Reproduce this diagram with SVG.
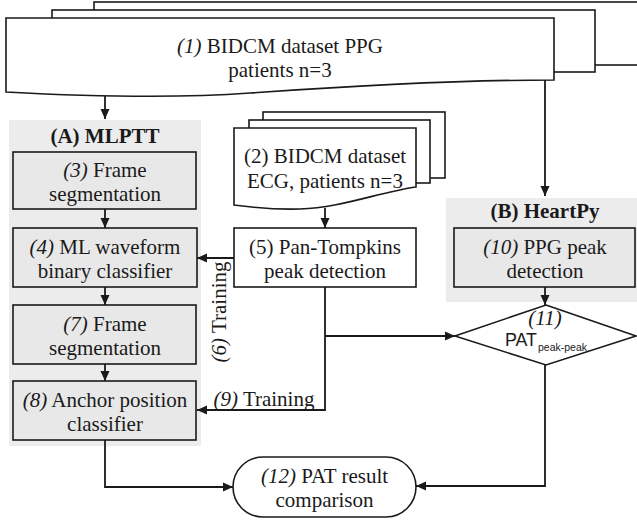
<svg xmlns="http://www.w3.org/2000/svg" width="637" height="523" viewBox="0 0 637 523">
  <style>
    .shape { fill: #ffffff; stroke: #1a1a1a; stroke-width: 1.6; }
    .proc { fill: #e8e8e8; stroke: #1a1a1a; stroke-width: 1.6; }
    .group { fill: #ececec; stroke: none; }
    .t { font-family: "Liberation Serif", "Times New Roman", serif; font-size: 21px; fill: #1a1a1a; text-anchor: middle; }
    .b { font-weight: bold; }
    .i { font-style: italic; }
    .sans { font-family: "Liberation Sans Narrow", "Liberation Sans", Arial, sans-serif; fill: #1a1a1a; }
    .edge { fill: none; stroke: #1a1a1a; stroke-width: 1.8; }
  </style>
  <defs>
    <marker id="arrow" viewBox="0 0 10 10" refX="10" refY="5" markerWidth="10" markerHeight="10" markerUnits="userSpaceOnUse" orient="auto">
      <path d="M0,0.5 L10,5 L0,9.5 Z" fill="#1a1a1a"/>
    </marker>
  </defs>

  <rect width="637" height="523" fill="#ffffff"/>

  <!-- group backgrounds -->
  <g id="group-mlptt">
    <rect class="group" x="9" y="120" width="192" height="326"/>
    <text class="t b" x="105" y="143">(A) MLPTT</text>
  </g>
  <g id="group-heartpy">
    <rect class="group" x="446" y="198" width="191" height="104"/>
    <text class="t b" x="545" y="218">(B) HeartPy</text>
  </g>

  <!-- (1) PPG dataset, stacked documents -->
  <g id="node-ppg-dataset">
    <rect class="shape" x="94" y="2" width="620" height="63"/>
    <rect class="shape" x="52" y="10" width="543" height="62"/>
    <path class="shape" d="M6,18 H554 V80 C470,80 350,86 250,93 C170,99 80,96 6,92 Z"/>
    <text class="t" x="280" y="53"><tspan class="i">(1)</tspan> BIDCM dataset PPG</text>
    <text class="t" x="280" y="77">patients n=3</text>
  </g>

  <!-- (2) ECG dataset, stacked documents -->
  <g id="node-ecg-dataset">
    <rect class="shape" x="263" y="112" width="182" height="66"/>
    <rect class="shape" x="249" y="120" width="181" height="63"/>
    <path class="shape" d="M234,128 H416 V187 C380,192 340,208 300,209 C270,210 250,207 234,205 Z"/>
    <text class="t" x="325" y="163">(2) BIDCM dataset</text>
    <text class="t" x="325" y="188">ECG, patients n=3</text>
  </g>

  <g id="node-3">
    <rect class="proc" x="13" y="152" width="183" height="57"/>
    <text class="t" x="105" y="177"><tspan class="i">(3)</tspan> Frame</text>
    <text class="t" x="105" y="201">segmentation</text>
  </g>

  <g id="node-4">
    <rect class="proc" x="13" y="228" width="184" height="59"/>
    <text class="t" x="105" y="253.5"><tspan class="i">(4)</tspan> ML waveform</text>
    <text class="t" x="105" y="277.5">binary classifier</text>
  </g>

  <g id="node-5">
    <rect class="shape" x="234" y="228" width="182" height="59"/>
    <text class="t" x="325" y="253.5">(5) Pan-Tompkins</text>
    <text class="t" x="325" y="277.5">peak detection</text>
  </g>

  <g id="node-7">
    <rect class="proc" x="13" y="305" width="183" height="59"/>
    <text class="t" x="105" y="330.5"><tspan class="i">(7)</tspan> Frame</text>
    <text class="t" x="105" y="354.5">segmentation</text>
  </g>

  <g id="node-8">
    <rect class="proc" x="13" y="381" width="183" height="59"/>
    <text class="t" x="105" y="406.5"><tspan class="i">(8)</tspan> Anchor position</text>
    <text class="t" x="105" y="430.5">classifier</text>
  </g>

  <g id="node-10">
    <rect class="proc" x="454" y="228" width="181" height="59"/>
    <text class="t" x="545" y="253.5"><tspan class="i">(10)</tspan> PPG peak</text>
    <text class="t" x="545" y="277.5">detection</text>
  </g>

  <g id="node-11">
    <path class="shape" d="M546,305 L636,336 L546,365 L455,336 Z"/>
    <text class="t i" x="545" y="325" font-size="20">(11)</text>
    <text class="sans" x="505" y="346" font-size="19" textLength="32" lengthAdjust="spacingAndGlyphs">PAT</text>
    <text class="sans" x="538" y="351" font-size="11" textLength="49" lengthAdjust="spacingAndGlyphs">peak-peak</text>
  </g>

  <g id="node-12">
    <rect class="shape" x="233" y="457" width="183" height="60" rx="30" ry="30"/>
    <text class="t" x="324.5" y="483"><tspan class="i">(12)</tspan> PAT result</text>
    <text class="t" x="324.5" y="507">comparison</text>
  </g>

  <!-- connectors -->
  <g id="connectors">
    <path class="edge" d="M105,96 V119" marker-end="url(#arrow)"/>
    <path class="edge" d="M545,80 V196" marker-end="url(#arrow)"/>
    <path class="edge" d="M105,209 V228" marker-end="url(#arrow)"/>
    <path class="edge" d="M105,287 V305" marker-end="url(#arrow)"/>
    <path class="edge" d="M105,364 V381" marker-end="url(#arrow)"/>
    <path class="edge" d="M325,208 V228" marker-end="url(#arrow)"/>
    <path class="edge" d="M234,258 H197" marker-end="url(#arrow)"/>
    <path class="edge" d="M325,287 V410 H197" marker-end="url(#arrow)"/>
    <path class="edge" d="M325,336 H455" marker-end="url(#arrow)"/>
    <path class="edge" d="M545,287 V305" marker-end="url(#arrow)"/>
    <path class="edge" d="M105,440 V487 H233" marker-end="url(#arrow)"/>
    <path class="edge" d="M545,365 V486 H416" marker-end="url(#arrow)"/>
    <text class="t" transform="translate(226,312) rotate(-90)"><tspan class="i">(6)</tspan> Training</text>
    <text class="t" x="264" y="406"><tspan class="i">(9)</tspan> Training</text>
  </g>
</svg>
